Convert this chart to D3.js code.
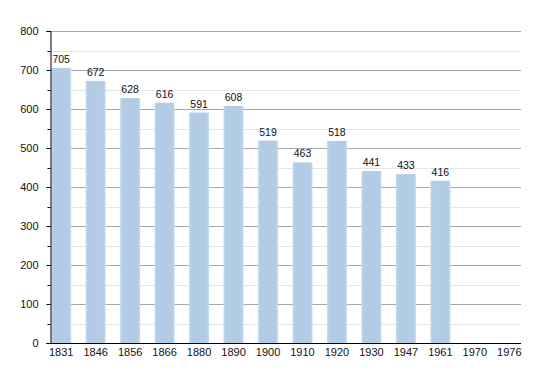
<!DOCTYPE html>
<html><head><meta charset="utf-8">
<script src="https://cdn.jsdelivr.net/npm/d3@7"></script>
<style>body{margin:0;background:#fff}svg{display:block}text{font-family:"Liberation Sans",Arial,sans-serif;fill:#111}</style>
</head><body><svg id="c" width="550" height="373"></svg>
<script>
const years = ["1831","1846","1856","1866","1880","1890","1900","1910","1920","1930","1947","1961","1970","1976"];
const population = [705,672,628,616,591,608,519,463,518,441,433,416,null,null];
const yTicks = [0,100,200,300,400,500,600,700,800];
const yMinorTicks = [50,150,250,350,450,550,650,750];

(function(){
const svg = d3.select("#c");
const mL = 50, mR = 521, mT = 31, mB = 343;
const x = d3.scaleBand().domain(years).range([mL + 0.5, mR - 1]).paddingInner(0.42).paddingOuter(0.02);
const y = d3.scaleLinear().domain([0, 800]).range([mB, mT]);

const defs = svg.append("defs");
const g = defs.append("linearGradient").attr("id","bg").attr("x1","0").attr("x2","1").attr("y1","0").attr("y2","0");
g.append("stop").attr("offset","0").attr("stop-color","#c9dbee");
g.append("stop").attr("offset","0.12").attr("stop-color","#b2cce6");
g.append("stop").attr("offset","0.88").attr("stop-color","#b2cce6");
g.append("stop").attr("offset","1").attr("stop-color","#c9dbee");

svg.append("g").selectAll("line").data(yMinorTicks).join("line")
  .attr("x1", mL).attr("x2", mR)
  .attr("y1", d => Math.round(y(d)) + 0.5).attr("y2", d => Math.round(y(d)) + 0.5)
  .attr("stroke", "#e6e6e6").attr("stroke-width", 1);
svg.append("g").selectAll("line").data(yTicks.filter(d => d > 0)).join("line")
  .attr("x1", mL).attr("x2", mR)
  .attr("y1", d => Math.round(y(d)) + 0.5).attr("y2", d => Math.round(y(d)) + 0.5)
  .attr("stroke", "#a8a8a8").attr("stroke-width", 1);

const data = years.map((yr, i) => ({yr, v: population[i]})).filter(d => d.v != null);

svg.append("g").selectAll("rect").data(data).join("rect")
  .attr("x", d => x(d.yr)).attr("width", x.bandwidth())
  .attr("y", d => y(d.v)).attr("height", d => y(0) - y(d.v))
  .attr("fill", "url(#bg)");

svg.append("g").selectAll("text").data(data).join("text")
  .attr("x", d => x(d.yr) + x.bandwidth() / 2)
  .attr("y", d => y(d.v) - 5)
  .attr("text-anchor", "middle").attr("font-size", "10.5px")
  .text(d => d.v);

const yAxis = d3.axisLeft(y).tickValues(yTicks).tickSize(4).tickPadding(8);
const ya = svg.append("g").attr("transform", `translate(${mL + 0.5},0)`).call(yAxis);
ya.select(".domain").attr("stroke", "#000");
ya.selectAll("text").attr("font-size", "11px");
svg.append("g").attr("transform", `translate(${mL + 0.5},0)`)
  .selectAll("line").data(yMinorTicks).join("line")
  .attr("x1", -3).attr("x2", 0)
  .attr("y1", d => Math.round(y(d)) + 0.5).attr("y2", d => Math.round(y(d)) + 0.5)
  .attr("stroke", "#000");

const xAxis = d3.axisBottom(x).tickSize(0).tickPadding(5);
const xa = svg.append("g").attr("transform", `translate(0,${mB + 0.5})`).call(xAxis);
xa.select(".domain").attr("d", `M${mL},0H${mR}`).attr("stroke", "#000");
xa.selectAll("text").attr("font-size", "11px");
})();
</script></body></html>
